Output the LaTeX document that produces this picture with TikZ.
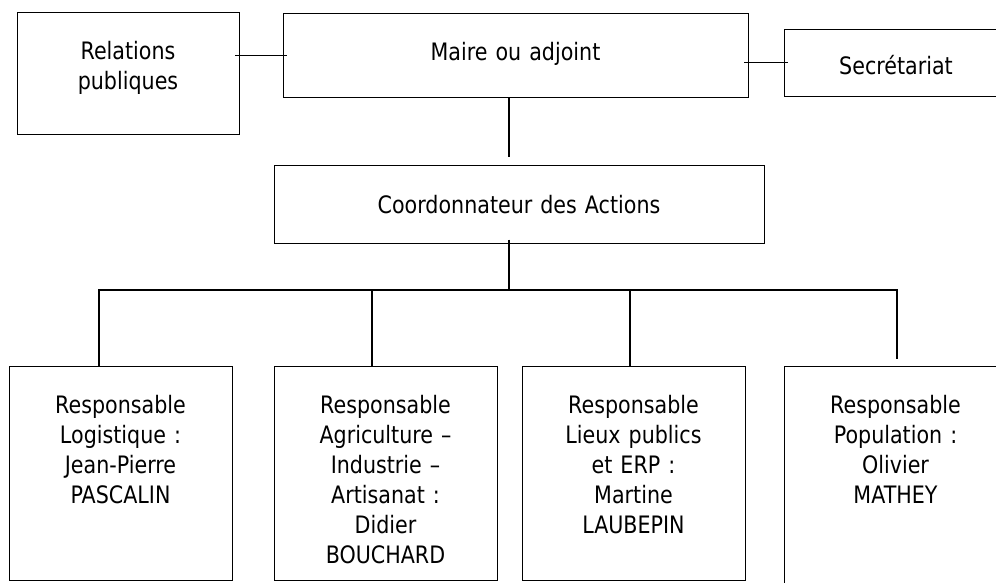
\documentclass[tikz,border=0pt]{standalone}
\usepackage{fontspec}
\setmainfont{DejaVu Sans}[FakeStretch=0.86]
\begin{document}
\begin{tikzpicture}[x=1pt, y=-1pt, every node/.style={draw, align=center, anchor=north, inner xsep=0pt, inner ysep=0pt, text height=47pt, line width=0.7pt, font=\fontsize{24}{30}\selectfont}, boxw/.style={minimum width=#1, text width=#1}, link/.style={line width=1.3pt}]
        \clip (0,0) rectangle (996,583);
        \node[boxw=222pt, text depth=75pt] (rel) at (128,12) {Relations\\publiques};
        \node[boxw=465pt, text depth=37pt] (maire) at (515.5,13) {Maire ou adjoint};
        \node[boxw=224pt, text depth=22pt, text height=45pt] (sec) at (896,29) {Secrétariat};
        \node[boxw=490pt, text depth=30pt, text height=48pt] (coord) at (519,165) {Coordonnateur des Actions};
        \node[boxw=223pt, text depth=167pt] (b1) at (120.5,366) {Responsable\\Logistique :\\Jean-Pierre\\PASCALIN};
        \node[boxw=223pt, text depth=167pt] (b2) at (385.5,366) {Responsable\\Agriculture –\\Industrie –\\Artisanat :\\Didier\\BOUCHARD};
        \node[boxw=223pt, text depth=167pt] (b3) at (633.5,366) {Responsable\\Lieux publics\\et ERP :\\Martine\\LAUBEPIN};
        \node[boxw=223pt, text depth=190pt] (b4) at (895.5,366) {Responsable\\Population :\\Olivier\\MATHEY};
        \coordinate (bus) at (509,290);
        \draw[link, shorten <=-4pt, shorten >=-4pt] (rel.east |- maire.west) -- (maire.west);
        \draw[link, shorten <=-4pt, shorten >=-4pt] (maire.east |- sec.west) -- (sec.west);
        \draw[link, shorten >=8pt] ([xshift=-6.5pt]maire.south) -- ([xshift=-10pt]coord.north);
        \draw[link] ([xshift=-10pt,yshift=4pt]coord.south) -- (bus);
        \draw[link] ([xshift=-21.5pt]b1.north) |- ([xshift=1.5pt]b4.north |- bus) -- ([xshift=1.5pt,yshift=7pt]b4.north);
        \draw[link] ([xshift=-13.5pt]b2.north) -- ([xshift=-13.5pt]b2.north |- bus);
        \draw[link] ([xshift=-3.5pt]b3.north) -- ([xshift=-3.5pt]b3.north |- bus);
    \end{tikzpicture}
\end{document}
